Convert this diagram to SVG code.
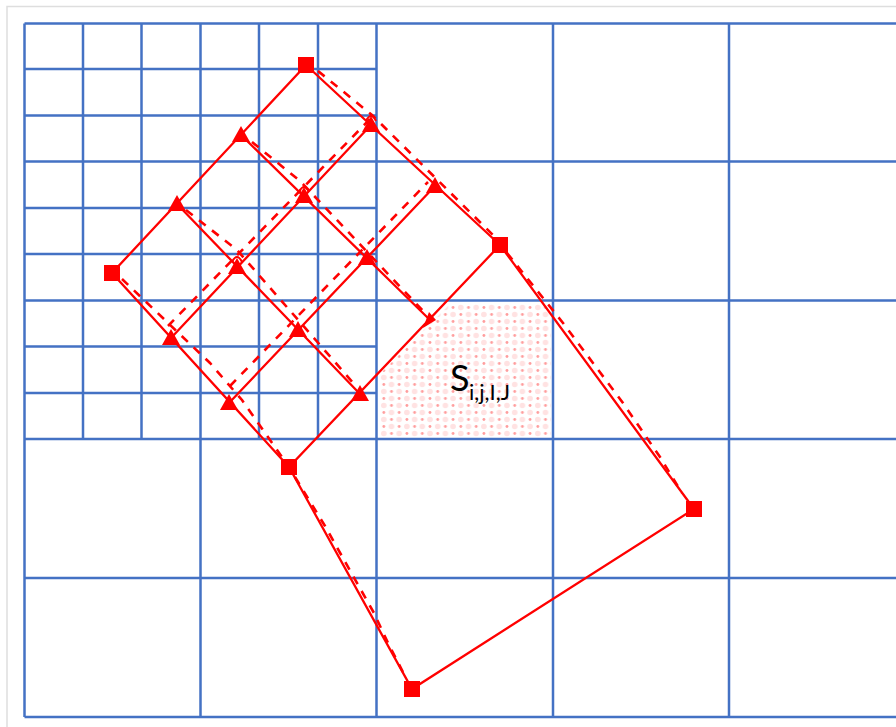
<svg xmlns="http://www.w3.org/2000/svg" width="896" height="727" viewBox="0 0 896 727">
<style>
.g{stroke:#4472c4;stroke-width:2.500;fill:none}
.s{stroke:#f00;stroke-width:2.300;fill:none}
.d{stroke:#f00;stroke-width:2.600;fill:none;stroke-dasharray:8.500 8}
.a{stroke:#f00;stroke-width:2;fill:none}
.m{fill:#f00}
text{font-family:"Lato","Open Sans",sans-serif;fill:#000}
</style>
<defs>
<pattern id="dots" patternUnits="userSpaceOnUse" x="380" y="304" width="15.4" height="14">
<circle cx="3.800" cy="3.500" r="2.800" fill="#ffe2e2"/><circle cx="3.800" cy="10.500" r="1.400" fill="#ff9c9c"/>
<circle cx="11.500" cy="3.500" r="1.400" fill="#ff9c9c"/><circle cx="11.500" cy="10.500" r="2.800" fill="#ffe2e2"/>
</pattern>
<rect id="sq" x="-8" y="-8" width="16" height="16" class="m"/>
<path id="tr" d="M0-10L9 6H-9Z" class="m"/>
</defs>
<rect x="0" y="0" width="896" height="727" fill="#fff"/>
<path d="M7 727V6.500H896" fill="none" stroke="#dedede" stroke-width="1.500"/>
<g id="grid" class="g">
<path d="M24.500 23.500H896M24.500 161.500H896M24.500 300.500H896M24.500 439H896M24.500 578H896M24.500 717H896"/>
<path d="M24.500 69H376.500M24.500 115.500H376.500M24.500 208H376.500M24.500 254H376.500M24.500 346.500H376.500M24.500 393H376.500"/>
<path d="M24.500 23.500V717M200.500 23.500V717M376.500 23.500V717M553 23.500V717M729 23.500V717"/>
<path d="M83 23.500V439M141.500 23.500V439M259 23.500V439M318 23.500V439"/>
</g>
<path id="shade" d="M380 437V374L450 304H551V437Z" fill="url(#dots)"/>
<g id="connectors">
<path class="s" d="M306 65L112 273L289 467L500 245L306 65M500 245L694 509L412 689L289 467"/>
<path class="s" d="M241 135L429 319M177 204L360 394M371 125L171 338M435 186L229 403"/>
<path class="d" d="M318 71L372 115L496 238"/>
<path class="d" d="M252 142L300 181L425 313"/>
<path class="d" d="M186 210L237 250L355 385"/>
<path class="d" d="M122 279L210 363L242 400L282 457"/>
<path class="d" d="M168 326L371 118"/>
<path class="d" d="M230 386L428 182"/>
<path class="d" d="M507 253L563 323L623 403L660 457L682 493"/>
<path class="d" d="M295 477L325 526L357 583L374 613L388 643L405 676"/>
<path class="a" d="M366 121Q371 111 376 121M299 192Q304 182 309 192M232 262Q237 252 242 262"/>
<path class="m" d="M429 312L436 320L423 328Z"/>
</g>
<g id="squares">
<use href="#sq" x="306" y="65"/><use href="#sq" x="112" y="273"/><use href="#sq" x="500" y="245"/>
<use href="#sq" x="289" y="467"/><use href="#sq" x="694" y="509"/><use href="#sq" x="412" y="689"/>
</g>
<g id="triangles">
<use href="#tr" x="241" y="136"/><use href="#tr" x="177" y="205"/><use href="#tr" x="371" y="126"/>
<use href="#tr" x="304" y="197"/><use href="#tr" x="237" y="268"/><use href="#tr" x="435" y="187"/>
<use href="#tr" x="367" y="259"/><use href="#tr" x="298" y="331"/><use href="#tr" x="171" y="339"/>
<use href="#tr" x="229" y="404"/><use href="#tr" x="360" y="395"/>
</g>
<g id="label"><text x="450" y="391" font-size="36">S</text><text x="469" y="400" font-size="22">i,j,I,J</text></g>
</svg>
